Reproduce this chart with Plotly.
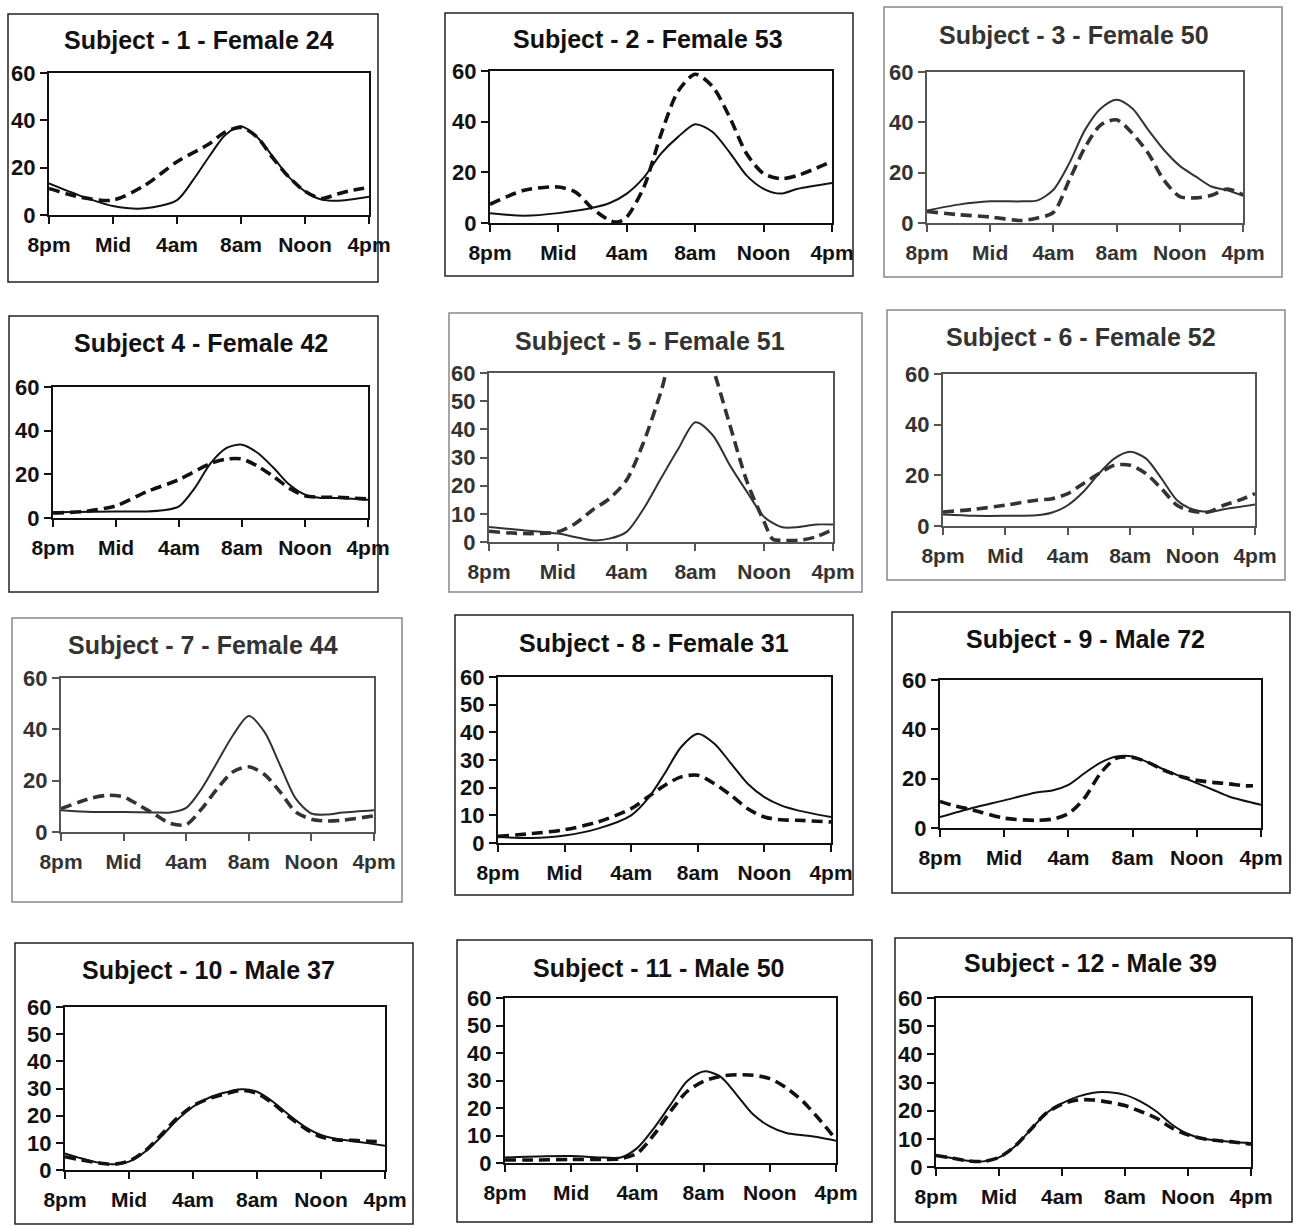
import plotly.graph_objects as go

W, H = 1298, 1226
TICK_HOURS = [0, 4, 8, 12, 16, 20]
TICK_LABELS = ["8pm", "Mid", "4am", "8am", "Noon", "4pm"]

TITLES = [
    "Subject - 1 - Female 24", "Subject - 2 - Female 53", "Subject - 3 - Female 50",
    "Subject 4 - Female 42", "Subject - 5 - Female 51", "Subject - 6 - Female 52",
    "Subject - 7 - Female 44", "Subject - 8 - Female 31", "Subject - 9 - Male 72",
    "Subject - 10 - Male 37", "Subject - 11 - Male 50", "Subject - 12 - Male 39",
]

# ---- data (hours after 8pm, value) ----
S1_SOLID_H = [0, 2, 4, 6, 8, 9, 10, 11, 12, 13, 14, 15, 16, 17, 18, 20]
S1_SOLID = [13.3, 8, 3.8, 2.8, 6.3, 14.7, 24.6, 33.7, 37.5, 33, 24.6, 16, 10, 6.6, 6, 7.7]
S1_DASH_H = [0, 2, 4, 6, 8, 10, 11, 12, 13, 14, 15, 16, 17, 18, 19, 20]
S1_DASH = [11.2, 7.5, 6.3, 12.6, 22.5, 30, 35, 37, 33, 24, 16, 10, 7, 8.8, 10.5, 11.6]

S2_SOLID_H = [0, 2, 4, 6, 7, 8, 9, 10, 11, 12, 13, 14, 15, 16, 17, 18, 20]
S2_SOLID = [3.9, 2.9, 3.9, 6, 7.9, 11.6, 18, 27.4, 34, 39, 36, 28, 18.8, 13.5, 11.6, 13.5, 15.8]
S2_DASH_H = [0, 2, 4, 5, 6, 7, 7.5, 8, 9, 10, 11, 12, 13, 14, 15, 16, 17, 18, 20]
S2_DASH = [7.4, 12.9, 14.2, 12.2, 5.7, 1, 0.4, 2.4, 14.2, 35, 52, 58.7, 54, 42, 27.4, 19.5, 17.5, 18.8, 24.3]

S3_SOLID_H = [0, 2, 4, 6, 7, 8, 9, 10, 11, 12, 13, 14, 15, 16, 17, 18, 19, 20]
S3_SOLID = [5, 7.3, 8.6, 8.6, 9, 13.2, 23.7, 37, 45.5, 49, 45.5, 37, 29, 22.7, 18.5, 14.5, 13, 10.8]
S3_DASH_H = [0, 2, 4, 6, 7, 8, 9, 10, 11, 12, 13, 14, 15, 16, 17, 18, 19, 20]
S3_DASH = [4.6, 3.3, 2.4, 1, 2, 4.2, 17, 30, 39, 41, 35.6, 27.7, 17, 10.5, 10, 11, 13.5, 11.2]

S4_SOLID_H = [0, 4, 6, 7, 8, 9, 10, 11, 12, 13, 14, 15, 16, 17, 18, 20]
S4_SOLID = [2.6, 3, 3, 3.5, 5.3, 13.7, 25, 32, 33.6, 29.8, 23, 15.3, 10.7, 9.2, 9.2, 8.4]
S4_DASH_H = [0, 2, 4, 6, 8, 10, 11, 12, 13, 14, 15, 16, 17, 18, 20]
S4_DASH = [2.3, 3, 5.6, 12.2, 17.6, 25, 27, 27, 23.7, 19, 13.7, 10.2, 9.5, 9.5, 8.7]

S5_SOLID_H = [0, 2, 4, 5, 6, 7, 8, 9, 10, 11, 12, 13, 14, 15, 16, 17, 18, 19, 20]
S5_SOLID = [5.3, 4.2, 3, 1.8, 0.6, 1.2, 3.6, 11.9, 22.6, 33, 42.5, 38, 27.3, 17.8, 8.9, 5.3, 5.3, 6.2, 6.2]
S5_DASH_H = [0, 2, 4, 5, 6, 7, 8, 9, 10, 11, 12, 13, 14, 15, 16, 16.5, 17, 18, 19, 20]
S5_DASH = [3.8, 3, 3.6, 6.5, 11.3, 15.4, 22, 35.6, 53.4, 74, 78, 62, 41.6, 21.4, 7.1, 1, 0.6, 0.6, 1.8, 4.5]

S6_SOLID_H = [0, 2, 4, 6, 7, 8, 9, 10, 11, 12, 13, 14, 15, 16, 17, 18, 20]
S6_SOLID = [4.5, 4, 4, 4.2, 5.3, 8.2, 13.5, 20.7, 26.7, 29.3, 26.7, 18.8, 10.2, 6.6, 5.5, 6.6, 8.5]
S6_DASH_H = [0, 2, 4, 6, 7, 8, 9, 10, 11, 12, 13, 14, 15, 16, 17, 18, 19, 20]
S6_DASH = [5.5, 6.6, 8.2, 10.2, 10.8, 12.8, 16.8, 20.7, 24, 24, 20.7, 14.8, 8.2, 5.8, 5.5, 8.2, 10.2, 12.8]

S7_SOLID_H = [0, 2, 4, 6, 7, 8, 9, 10, 11, 12, 13, 14, 15, 16, 17, 18, 20]
S7_SOLID = [8.5, 7.8, 7.8, 7.6, 7.6, 9.4, 17, 27.4, 37.8, 45.2, 39, 26, 13, 7.2, 6.8, 7.6, 8.5]
S7_DASH_H = [0, 2, 3, 4, 5, 6, 7, 8, 9, 10, 11, 12, 13, 14, 15, 16, 17, 18, 20]
S7_DASH = [9.1, 13.3, 14.3, 13.7, 10.4, 6.8, 3.3, 2.9, 9.1, 17, 23.5, 25.4, 22.4, 15.6, 7.8, 5, 4.3, 4.6, 6.3]

S8_SOLID_H = [0, 2, 4, 6, 8, 9, 10, 11, 12, 13, 14, 15, 16, 17, 18, 20]
S8_SOLID = [2.2, 1.8, 2.7, 5.2, 10, 16, 25, 34.7, 39.5, 35.9, 28.7, 21.4, 16.6, 13.6, 11.8, 9.4]
S8_DASH_H = [0, 2, 4, 6, 8, 9, 10, 11, 12, 13, 14, 15, 16, 17, 18, 20]
S8_DASH = [2.4, 3.4, 4.8, 7.6, 12.4, 16.6, 20.8, 23.9, 24.5, 21.4, 17.2, 12.4, 9.4, 8.4, 8.2, 7.6]

S9_SOLID_H = [0, 2, 4, 6, 7, 8, 9, 10, 11, 12, 13, 14, 15, 16, 17, 18, 20]
S9_SOLID = [4.4, 8.1, 11.2, 14.4, 15.2, 17.5, 22.2, 26.5, 29, 29, 26.5, 23.6, 20.9, 18.2, 15.5, 12.8, 9.4]
S9_DASH_H = [0, 1, 2, 4, 6, 7, 8, 9, 10, 11, 12, 13, 14, 15, 16, 17, 18, 19, 19.5]
S9_DASH = [10.8, 8.8, 7.4, 4, 3.1, 3.6, 5.8, 12.1, 22.2, 28.3, 28.6, 26.5, 23.3, 20.9, 19.3, 18.5, 17.9, 17.1, 17.1]

S10_SOLID_H = list(range(21))
S10_SOLID = [6.1, 4.3, 2.8, 2.1, 3.1, 6.7, 12.2, 18.4, 23.3, 26.6, 28.5, 29.7, 28.8, 25.1, 20.2,
             15.9, 12.9, 11.4, 10.6, 9.8, 8.9]
S10_DASH_H = list(range(20)) + [19.6]
S10_DASH = [4.9, 3.7, 2.7, 2.1, 3.3, 7, 12.9, 19, 23.6, 26.3, 28, 29.3, 28.2, 24.5, 19.6,
            15.3, 12.2, 11.1, 10.9, 10.6, 10.4]

S11_SOLID_H = [0, 2, 4, 6, 7, 8, 9, 10, 11, 12, 13, 14, 15, 16, 17, 18, 19, 20]
S11_SOLID = [2, 2.4, 2.5, 2, 2, 5.5, 12.7, 21.2, 29.7, 33.3, 31.5, 24.8, 17.6, 13.3, 10.9, 10.1, 9.3, 8.1]
S11_DASH_H = [0, 2, 4, 6, 7, 8, 9, 10, 11, 12, 13, 14, 15, 16, 17, 18, 19, 20]
S11_DASH = [1.1, 1.1, 1.3, 1.3, 1.6, 3.6, 10.3, 18.8, 26, 29.7, 31.5, 32.1, 31.9, 30.7, 27.3, 22.4, 15.8, 8.5]

S12_SOLID_H = list(range(21))
S12_SOLID = [4.1, 3.2, 2.2, 2, 3.4, 7.3, 13.2, 19.1, 22.6, 25, 26.4, 26.5, 25.6, 23.2, 19.7,
             15, 11.7, 10, 9.3, 8.8, 8.5]
S12_DASH_H = list(range(21))
S12_DASH = [4.1, 3.2, 2.2, 2, 3.4, 7.3, 13.2, 19.1, 22.3, 23.8, 23.8, 23, 21.8, 19.7, 17.3,
            13.8, 11.4, 10, 9.3, 8.8, 8.1]

SOLIDS = [(S1_SOLID_H, S1_SOLID), (S2_SOLID_H, S2_SOLID), (S3_SOLID_H, S3_SOLID),
          (S4_SOLID_H, S4_SOLID), (S5_SOLID_H, S5_SOLID), (S6_SOLID_H, S6_SOLID),
          (S7_SOLID_H, S7_SOLID), (S8_SOLID_H, S8_SOLID), (S9_SOLID_H, S9_SOLID),
          (S10_SOLID_H, S10_SOLID), (S11_SOLID_H, S11_SOLID), (S12_SOLID_H, S12_SOLID)]
DASHES = [(S1_DASH_H, S1_DASH), (S2_DASH_H, S2_DASH), (S3_DASH_H, S3_DASH),
          (S4_DASH_H, S4_DASH), (S5_DASH_H, S5_DASH), (S6_DASH_H, S6_DASH),
          (S7_DASH_H, S7_DASH), (S8_DASH_H, S8_DASH), (S9_DASH_H, S9_DASH),
          (S10_DASH_H, S10_DASH), (S11_DASH_H, S11_DASH), (S12_DASH_H, S12_DASH)]

Y_STEP = [20, 20, 20, 20, 10, 20, 20, 10, 20, 10, 10, 10]
LIGHT = [False, False, True, False, True, True, True, False, False, False, False, False]

# ---- layout geometry (pixels) ----
AREAS = [(49, 369, 73, 215), (490, 832, 71, 223), (927, 1243, 72, 223),
         (53, 368, 387, 518), (489, 833, 373, 542), (943, 1255, 374, 526),
         (61, 374, 678, 832), (498, 831, 677, 843), (940, 1261, 680, 828),
         (65, 385, 1007, 1170), (505, 836, 998, 1163), (936, 1251, 998, 1167)]
TITLE_POS = [(199, 40), (648, 39), (1074, 35), (201, 343), (650, 341), (1081, 337),
             (203, 645), (654, 643), (1085, 639), (208, 970), (659, 968), (1090, 963)]
BOXES = [(8, 14, 378, 282), (445, 13, 853, 276), (884, 7, 1282, 277),
         (9, 316, 378, 592), (449, 313, 862, 592), (887, 310, 1285, 580),
         (12, 618, 402, 902), (455, 615, 853, 895), (892, 612, 1290, 893),
         (15, 943, 413, 1224), (457, 940, 872, 1222), (895, 938, 1292, 1222)]

FONT = "Liberation Sans, Arial, sans-serif"

fig = go.Figure()
shapes = []
annotations = []

for i in range(12):
    n = "" if i == 0 else str(i + 1)
    xa, ya = "x" + n, "y" + n
    light = LIGHT[i]
    ink = "#333333" if light else "#111111"
    axc = "#555555" if light else "#111111"
    sh, sv = SOLIDS[i]
    dh, dv = DASHES[i]
    fig.add_trace(go.Scatter(x=sh, y=sv, mode="lines", xaxis=xa, yaxis=ya,
                             line=dict(color=ink, width=2, shape="spline", smoothing=0.8),
                             showlegend=False, hoverinfo="skip"))
    fig.add_trace(go.Scatter(x=dh, y=dv, mode="lines", xaxis=xa, yaxis=ya,
                             line=dict(color=ink, width=3.6, dash="11px,6px",
                                       shape="spline", smoothing=0.8),
                             showlegend=False, hoverinfo="skip"))
    x0, x1, yt, yb = AREAS[i]
    kx = "xaxis" + n
    ky = "yaxis" + n
    fig.layout[kx] = dict(domain=[x0 / W, x1 / W], range=[0, 20], anchor=ya,
                          tickvals=TICK_HOURS, ticktext=TICK_LABELS, automargin=False,
                          showline=True, linecolor=axc, linewidth=2, mirror=True,
                          ticks="outside", ticklen=7, tickwidth=2, tickcolor=axc,
                          showgrid=False, zeroline=False, fixedrange=True,
                          ticklabelstandoff=3,
                          tickfont=dict(family=FONT, size=21, color=ink, weight="bold"))
    fig.layout[ky] = dict(domain=[1 - yb / H, 1 - yt / H], range=[0, 60], anchor=xa,
                          dtick=Y_STEP[i], tick0=0, automargin=False,
                          showline=True, linecolor=axc, linewidth=2, mirror=True,
                          ticks="outside", ticklen=7, tickwidth=2, tickcolor=axc,
                          showgrid=False, zeroline=False, fixedrange=True,
                          ticklabelstandoff=0,
                          tickfont=dict(family=FONT, size=22, color=ink, weight="bold"))
    bl, bt, br, bb = BOXES[i]
    shapes.append(dict(type="rect", xref="paper", yref="paper",
                       x0=bl / W, x1=br / W, y0=1 - bb / H, y1=1 - bt / H,
                       line=dict(color="#888888" if light else "#222222", width=1.5),
                       layer="below"))
    tx, ty = TITLE_POS[i]
    annotations.append(dict(text="<b>" + TITLES[i] + "</b>", xref="paper", yref="paper",
                            x=tx / W, y=1 - ty / H, xanchor="center", yanchor="middle",
                            showarrow=False,
                            font=dict(family=FONT, size=25, color=ink)))

fig.update_layout(width=W, height=H, margin=dict(l=0, r=0, t=0, b=0, autoexpand=False),
                  paper_bgcolor="white", plot_bgcolor="white",
                  shapes=shapes, annotations=annotations, showlegend=False)

fig.write_html("out.html", config={"displayModeBar": False},
               post_script="document.body.style.margin='0';document.body.style.overflow='hidden';")
